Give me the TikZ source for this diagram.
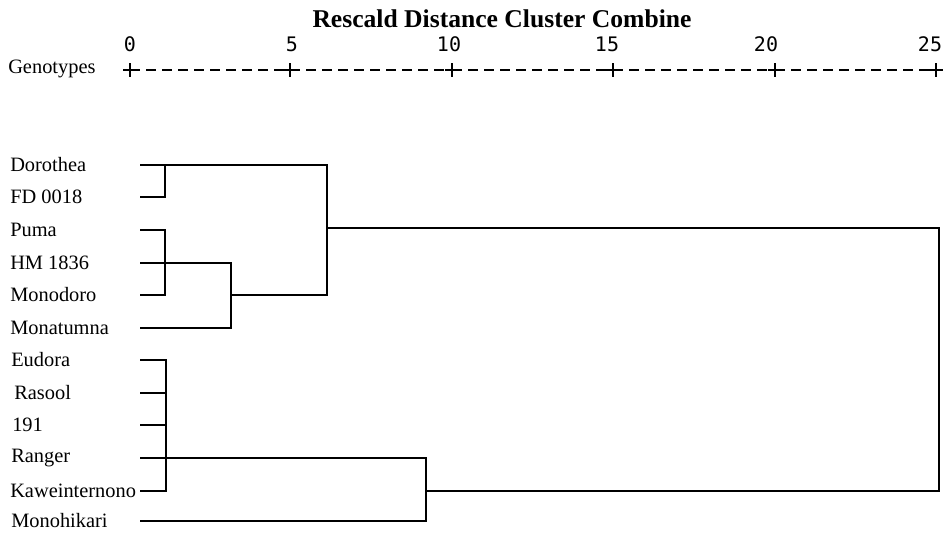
\documentclass[tikz,border=0pt]{standalone}
\usepackage{fontspec}
\usetikzlibrary{calc}
\setmainfont{Liberation Serif}
\newfontfamily\numfont{DejaVu Sans Mono}
\begin{document}
\begin{tikzpicture}[x=0.75pt,y=-0.75pt,
  lbl/.style={anchor=west,inner sep=0pt,font=\fontsize{15.3}{15.3}\selectfont},
  num/.style={inner sep=0pt,font=\numfont\fontsize{15}{15}\selectfont},
  ttl/.style={inner sep=0pt,font=\bfseries\fontsize{19.2}{19.2}\selectfont},
  tree/.style={line width=1.3pt,line join=miter,line cap=rect},
  axis/.style={line width=0.9pt,dash pattern=on 7.5pt off 4.5pt},
  tick/.style={line width=0.9pt}]
\useasboundingbox (0,0) rectangle (945,532);
% title and scale
\node[ttl] (title) at (502,19) {Rescald Distance Cluster Combine};
\foreach \v/\xx/\nx in {0/130/130,5/290/292,10/452/449,15/613/607,20/775/766,25/936/930}{
  \node[num] (n\v) at (\nx,44) {\v};
  \coordinate (t\v) at (\xx,70);
  \draw[tick] ($(t\v)+(-7,0)$) -- ($(t\v)+(7,0)$) ($(t\v)+(0,-7)$) -- ($(t\v)+(0,7)$);
}
\node[lbl] (geno) at (8,69) {Genotypes};
\draw[axis] (t0) -- (t5);
\draw[axis] (t5) -- (t10);
\draw[axis] (t10) -- (t15);
\draw[axis] (t15) -- (t20);
\draw[axis] (t20) -- (t25);
% labels
\foreach \i/\yy/\xx/\t in {1/165/10/Dorothea,2/197/10/FD 0018,3/230/10/Puma,4/263/10/HM 1836,
  5/295/10/Monodoro,6/328/10/Monatumna,7/360/11/Eudora,8/393/14/Rasool,9/425/12/191,
  10/458/11/Ranger,11/491/10/Kaweinternono,12/521/11/Monohikari}{
  \node[lbl] (L\i) at (\xx,\yy) {\t};
  \coordinate (s\i) at (141,\yy);
}
% join points
\coordinate (a1) at (165,165); \coordinate (a2) at (165,197);
\coordinate (b1) at (165,230); \coordinate (b2) at (165,263); \coordinate (b3) at (165,295);
\coordinate (c1) at (231,263); \coordinate (c2) at (231,295); \coordinate (c3) at (231,328);
\coordinate (d1) at (327,165); \coordinate (d2) at (327,228); \coordinate (d3) at (327,295);
\coordinate (e1) at (166,360); \coordinate (e2) at (166,393); \coordinate (e3) at (166,425);
\coordinate (e4) at (166,458); \coordinate (e5) at (166,491);
\coordinate (f1) at (426,458); \coordinate (f2) at (426,491); \coordinate (f3) at (426,521);
\coordinate (g1) at (939,228); \coordinate (g2) at (939,491);
% top cluster
\draw[tree] (s1) -- (d1) -- (d3) -- (c2);
\draw[tree] (s2) -- (a2) -- (a1);
\draw[tree] (s3) -- (b1) -- (b3) -- (s5);
\draw[tree] (s4) -- (c1) -- (c3) -- (s6);
% bottom cluster
\draw[tree] (s7) -- (e1) -- (e5) -- (s11);
\draw[tree] (s8) -- (e2);
\draw[tree] (s9) -- (e3);
\draw[tree] (s10) -- (f1) -- (f3) -- (s12);
% root
\draw[tree] (d2) -- (g1) -- (g2) -- (f2);
\end{tikzpicture}
\end{document}
